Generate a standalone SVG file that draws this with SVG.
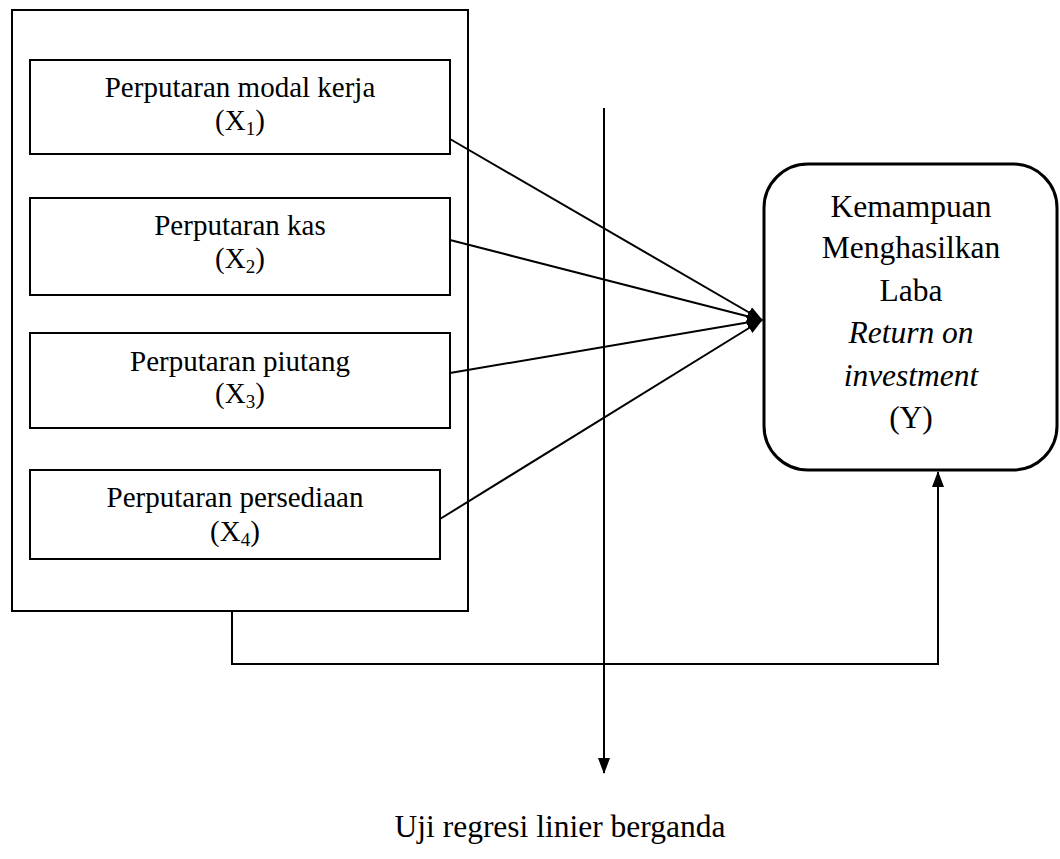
<svg xmlns="http://www.w3.org/2000/svg" width="1060" height="859" viewBox="0 0 1060 859">
<defs>
<style>
.box{fill:#fff;stroke:#000;stroke-width:2}
.t{font-family:"Liberation Serif","Times New Roman",serif;font-size:29px;fill:#000;text-anchor:middle}
.tr{font-family:"Liberation Serif","Times New Roman",serif;font-size:31.5px;fill:#000;text-anchor:middle}
.c{fill:none;stroke:#000;stroke-width:2}
</style>
<marker id="ah" viewBox="0 0 16 12" refX="15" refY="6" markerWidth="8" markerHeight="6" markerUnits="strokeWidth" orient="auto">
<path d="M0,0 L16,6 L0,12 z" fill="#000"/>
</marker>
</defs>
<rect width="1060" height="859" fill="#fff"/>
<g id="group-x">
<rect class="box" x="12" y="10" width="456" height="601"/>
</g>
<g id="x1">
<rect class="box" x="30" y="60" width="420" height="94"/>
<text class="t" x="240" y="97">Perputaran modal kerja</text>
<text class="t" x="240" y="130">(X<tspan font-size="19" dy="5">1</tspan><tspan dy="-5">)</tspan></text>
</g>
<g id="x2">
<rect class="box" x="30" y="198" width="420" height="97"/>
<text class="t" x="240" y="235">Perputaran kas</text>
<text class="t" x="240" y="268">(X<tspan font-size="19" dy="5">2</tspan><tspan dy="-5">)</tspan></text>
</g>
<g id="x3">
<rect class="box" x="30" y="333" width="420" height="95"/>
<text class="t" x="240" y="371">Perputaran piutang</text>
<text class="t" x="240" y="403">(X<tspan font-size="19" dy="5">3</tspan><tspan dy="-5">)</tspan></text>
</g>
<g id="x4">
<rect class="box" x="30" y="470" width="410" height="89"/>
<text class="t" x="235" y="507">Perputaran persediaan</text>
<text class="t" x="235" y="541">(X<tspan font-size="19" dy="5">4</tspan><tspan dy="-5">)</tspan></text>
</g>
<g id="y">
<rect x="764" y="164" width="293" height="306" rx="44" ry="44" fill="#fff" stroke="#000" stroke-width="3"/>
<text class="tr" x="911" y="217">Kemampuan</text>
<text class="tr" x="911" y="258">Menghasilkan</text>
<text class="tr" x="911" y="301">Laba</text>
<text class="tr" x="911" y="343" font-style="italic">Return on</text>
<text class="tr" x="911" y="386" font-style="italic">investment</text>
<text class="tr" x="911" y="428">(Y)</text>
</g>
<g id="label">
<text class="tr" x="560" y="837">Uji regresi linier berganda</text>
</g>
<g id="connectors">
<line class="c" x1="450" y1="139" x2="762" y2="320" marker-end="url(#ah)"/>
<line class="c" x1="450" y1="240" x2="762" y2="320" marker-end="url(#ah)"/>
<line class="c" x1="450" y1="373" x2="762" y2="320" marker-end="url(#ah)"/>
<line class="c" x1="440" y1="519" x2="762" y2="320" marker-end="url(#ah)"/>
<line class="c" x1="604" y1="108" x2="604" y2="773" marker-end="url(#ah)"/>
<polyline class="c" points="232,611 232,664 938,664 938,472" marker-end="url(#ah)"/>
</g>
</svg>
